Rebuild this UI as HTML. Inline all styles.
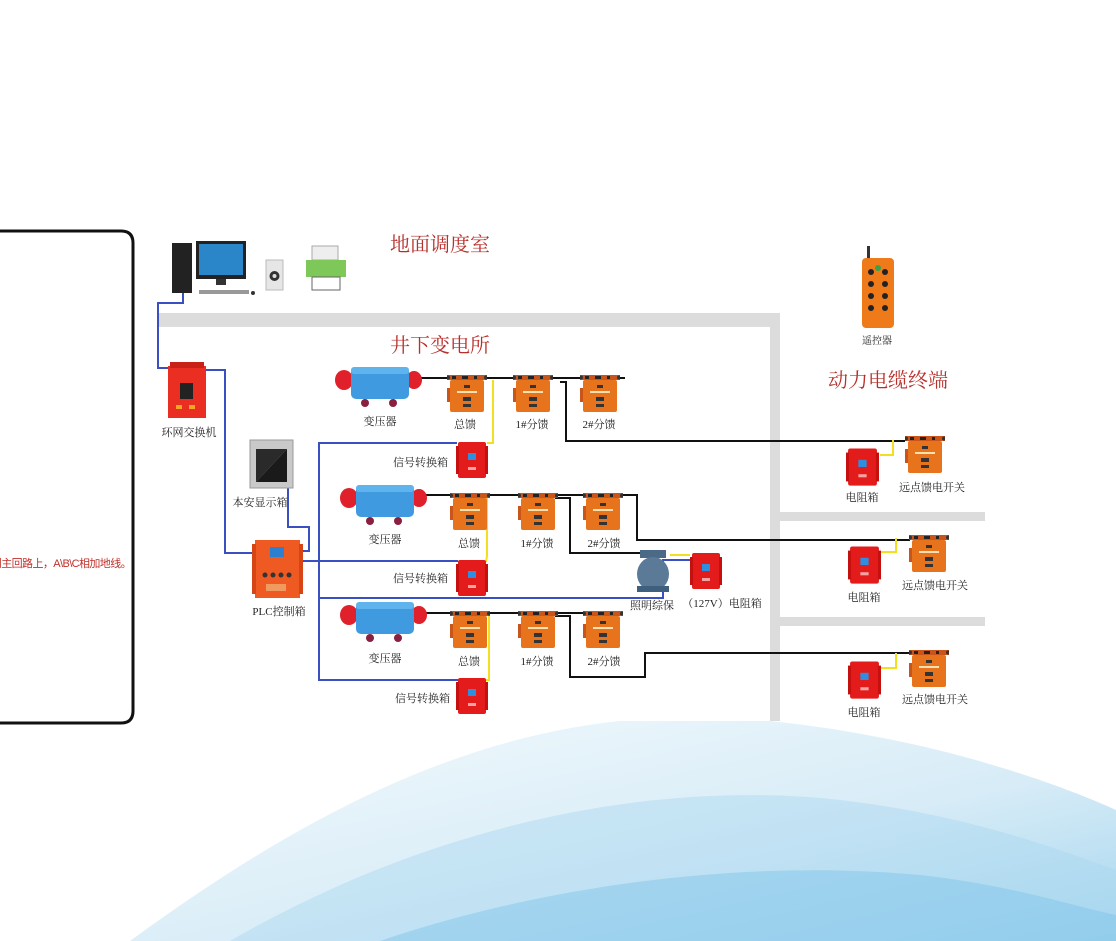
<!DOCTYPE html>
<html><head><meta charset="utf-8">
<style>
html,body{margin:0;padding:0;background:#fff;}
body{width:1116px;height:941px;overflow:hidden;position:relative;}
svg{position:absolute;left:0;top:0;}
text{font-family:"Liberation Serif","Noto Serif CJK SC",serif;}
.l{font-size:11px;fill:#222;}
.t{font-size:20px;fill:#b8302c;}
</style></head><body>
<svg width="1116" height="941" viewBox="0 0 1116 941" xmlns="http://www.w3.org/2000/svg">
<defs>
<linearGradient id="w1" x1="0" y1="0" x2="1" y2="1">
<stop offset="0" stop-color="#f2f9fd"/><stop offset="0.6" stop-color="#cde7f5"/><stop offset="1" stop-color="#8ecbea"/></linearGradient>
<symbol id="sw" viewBox="0 0 40 42">
<rect x="0" y="3" width="40" height="5" fill="#c9551a"/>
<circle cx="1" cy="5.5" r="2" fill="#333"/><circle cx="39" cy="5.5" r="2" fill="#333"/>
<rect x="5" y="4" width="4" height="3" fill="#222"/><rect x="15" y="4" width="6" height="3" fill="#222"/><rect x="27" y="4" width="3" height="3" fill="#222"/>
<rect x="3" y="8" width="34" height="32" rx="2" fill="#e8731d"/>
<rect x="17" y="13" width="6" height="3" fill="#333"/>
<rect x="10" y="19" width="20" height="2" fill="#fbe0b0"/>
<rect x="16" y="25" width="8" height="4" fill="#333"/>
<rect x="16" y="32" width="8" height="3" fill="#333"/>
<rect x="0" y="16" width="3" height="14" fill="#c9551a"/>
</symbol>
<symbol id="rb" viewBox="0 0 32 40">
<rect x="2" y="2" width="28" height="36" rx="2" fill="#e41b1b"/>
<rect x="0" y="6" width="3" height="28" fill="#c51010"/>
<rect x="29" y="6" width="3" height="28" fill="#c51010"/>
<rect x="12" y="13" width="8" height="7" fill="#2e8fe0"/>
<rect x="12" y="27" width="8" height="3" fill="#fff" opacity=".6"/>
</symbol>
<symbol id="tr" viewBox="0 0 88 42">
<ellipse cx="9" cy="15" rx="9" ry="10" fill="#e0202a"/>
<ellipse cx="79" cy="15" rx="8" ry="9" fill="#e0202a"/>
<rect x="16" y="2" width="58" height="32" rx="5" fill="#3f9ae0"/>
<rect x="16" y="2" width="58" height="7" rx="3" fill="#5fb4ee"/>
<circle cx="30" cy="38" r="4" fill="#8a2040"/><circle cx="58" cy="38" r="4" fill="#8a2040"/>
</symbol>
</defs>

<!-- background wave -->
<path d="M130 941 C 350 780 540 700 760 720 C 920 735 1050 780 1116 810 L1116 941 Z" fill="url(#w1)" opacity=".8"/>
<path d="M230 941 C 440 820 660 780 840 800 C 970 815 1060 850 1116 870 L1116 941 Z" fill="#a8d6ef" opacity=".45"/>
<path d="M380 941 C 560 880 760 860 920 875 C 1010 885 1070 905 1116 915 L1116 941 Z" fill="#7cc3e8" opacity=".45"/>

<!-- diagram white area -->
<rect x="150" y="228" width="835" height="493" fill="#fff"/>

<!-- left panel -->
<path d="M-5 231 H121 Q133 231 133 243 V711 Q133 723 121 723 H-5" fill="#fff" stroke="#111" stroke-width="3"/>
<text x="131" y="567" text-anchor="end" style="font-family:'Liberation Sans','Noto Sans CJK SC',sans-serif;font-size:11px;fill:#c0302a;letter-spacing:-0.6px">到主回路上，A\B\C相加地线。</text>

<!-- gray bands -->
<rect x="158" y="313" width="622" height="12" fill="#dcdcdc"/>
<line x1="158" y1="326" x2="780" y2="326" stroke="#bbb"/>
<rect x="770" y="320" width="10" height="401" fill="#dcdcdc"/>
<rect x="780" y="512" width="205" height="9" fill="#dcdcdc"/>
<rect x="780" y="617" width="205" height="9" fill="#dcdcdc"/>

<!-- titles -->
<text class="t" x="390" y="251">地面调度室</text>
<text class="t" x="390" y="352">井下变电所</text>
<text class="t" x="828" y="387">动力电缆终端</text>

<!-- computer -->
<rect x="172" y="243" width="20" height="50" fill="#222"/>
<rect x="196" y="241" width="50" height="38" fill="#222"/>
<rect x="199" y="244" width="44" height="31" fill="#2b86c9"/>
<rect x="216" y="279" width="10" height="6" fill="#333"/>
<rect x="199" y="290" width="50" height="4" fill="#999"/>
<circle cx="253" cy="293" r="2" fill="#333"/>
<rect x="266" y="260" width="17" height="30" fill="#e6e6e6" stroke="#bbb"/>
<circle cx="274.5" cy="276" r="5" fill="#333"/><circle cx="274.5" cy="276" r="2" fill="#ddd"/>
<rect x="312" y="246" width="26" height="14" fill="#eee" stroke="#aaa"/>
<rect x="306" y="260" width="40" height="17" fill="#7dc858"/>
<rect x="312" y="277" width="28" height="13" fill="#fff" stroke="#666"/>

<!-- remote -->
<rect x="867" y="246" width="3" height="12" fill="#333"/>
<rect x="862" y="258" width="32" height="70" rx="4" fill="#ef7a1a"/>
<g fill="#222"><circle cx="871" cy="272" r="3"/><circle cx="885" cy="272" r="3"/><circle cx="871" cy="284" r="3"/><circle cx="885" cy="284" r="3"/><circle cx="871" cy="296" r="3"/><circle cx="885" cy="296" r="3"/><circle cx="871" cy="308" r="3"/><circle cx="885" cy="308" r="3"/></g>
<circle cx="878" cy="268" r="3" fill="#3aa04a"/>
<text class="l" x="877" y="344" text-anchor="middle" style="font-size:10px">遥控器</text>

<!-- blue lines -->
<g stroke="#3a4fc0" stroke-width="2" fill="none">
<polyline points="183,293 183,303 158,303 158,368 172,368"/>
<polyline points="205,370 225,370 225,553 252,553"/>
<polyline points="288,488 288,527 309,527 309,551 298,551"/>
<polyline points="457,443 319,443 319,680 458,680"/>
<polyline points="300,561 458,561"/>
<polyline points="319,598 663,598 663,560 690,560"/>
</g>

<!-- switch & display & PLC -->
<rect x="168" y="366" width="38" height="52" fill="#ea2f22"/>
<rect x="170" y="362" width="34" height="6" fill="#c82216"/>
<rect x="180" y="383" width="13" height="16" fill="#222"/>
<rect x="176" y="405" width="6" height="4" fill="#f5a623"/><rect x="189" y="405" width="6" height="4" fill="#f5a623"/>
<text class="l" x="189" y="436" text-anchor="middle">环网交换机</text>

<rect x="250" y="440" width="43" height="48" fill="#c9c9c9" stroke="#999"/>
<polygon points="256,482 287,449 287,482" fill="#1a1a1a"/>
<polygon points="256,449 287,449 256,482" fill="#2a2a2a"/>
<text class="l" x="260" y="506" text-anchor="middle">本安显示箱</text>

<rect x="255" y="540" width="45" height="58" fill="#ee5a22"/>
<rect x="252" y="544" width="4" height="50" fill="#d84515"/><rect x="299" y="544" width="4" height="50" fill="#d84515"/>
<rect x="270" y="547" width="14" height="10" fill="#2d7fd0"/>
<g fill="#333"><circle cx="265" cy="575" r="2.5"/><circle cx="273" cy="575" r="2.5"/><circle cx="281" cy="575" r="2.5"/><circle cx="289" cy="575" r="2.5"/></g>
<rect x="266" y="584" width="20" height="7" fill="#f09a60"/>
<text class="l" x="279" y="615" text-anchor="middle">PLC控制箱</text>

<!-- black lines -->
<g stroke="#111" stroke-width="2" fill="none">
<line x1="420" y1="378" x2="625" y2="378"/>
<polyline points="560,382 566,382 566,441 905,441"/>
<line x1="425" y1="495" x2="622" y2="495"/>
<polyline points="620,495 637,495 637,540 910,540"/>
<polyline points="555,498 570,498 570,553 640,553"/>
<line x1="425" y1="613" x2="622" y2="613"/>
<polyline points="555,616 570,616 570,677 645,677 645,653 910,653"/>
</g>
<!-- yellow lines -->
<g stroke="#f2e020" stroke-width="2" fill="none">
<polyline points="493,380 493,443 487,443"/>
<polyline points="487,496 487,556 486,562"/>
<polyline points="489,613 489,680 486,680"/>
<polyline points="670,555 690,555"/>
<polyline points="880,455 893,455 893,440"/>
<polyline points="880,552 896,552 896,538"/>
<polyline points="880,668 896,668 896,653"/>
</g>

<!-- row 1 -->
<use href="#tr" x="335" y="365" width="88" height="42"/>
<text class="l" x="380" y="425" text-anchor="middle">变压器</text>
<use href="#sw" x="447" y="372" width="40" height="42"/>
<use href="#sw" x="513" y="372" width="40" height="42"/>
<use href="#sw" x="580" y="372" width="40" height="42"/>
<text class="l" x="465" y="428" text-anchor="middle">总馈</text>
<text class="l" x="532" y="428" text-anchor="middle">1#分馈</text>
<text class="l" x="599" y="428" text-anchor="middle">2#分馈</text>
<use href="#rb" x="456" y="440" width="32" height="40"/>
<text class="l" x="448" y="466" text-anchor="end">信号转换箱</text>

<!-- row 2 -->
<use href="#tr" x="340" y="483" width="88" height="42"/>
<text class="l" x="385" y="543" text-anchor="middle">变压器</text>
<use href="#sw" x="450" y="490" width="40" height="42"/>
<use href="#sw" x="518" y="490" width="40" height="42"/>
<use href="#sw" x="583" y="490" width="40" height="42"/>
<text class="l" x="469" y="547" text-anchor="middle">总馈</text>
<text class="l" x="537" y="547" text-anchor="middle">1#分馈</text>
<text class="l" x="604" y="547" text-anchor="middle">2#分馈</text>
<use href="#rb" x="456" y="558" width="32" height="40"/>
<text class="l" x="448" y="582" text-anchor="end">信号转换箱</text>
<!-- lamp -->
<rect x="640" y="550" width="26" height="8" fill="#4a6a88"/>
<ellipse cx="653" cy="574" rx="16" ry="17" fill="#5a7a98"/>
<rect x="637" y="586" width="32" height="6" fill="#3f5f7e"/>
<text class="l" x="652" y="609" text-anchor="middle">照明综保</text>
<use href="#rb" x="690" y="550" width="32" height="42"/>
<text class="l" x="722" y="607" text-anchor="middle">（127V）电阻箱</text>

<!-- row 3 -->
<use href="#tr" x="340" y="600" width="88" height="42"/>
<text class="l" x="385" y="662" text-anchor="middle">变压器</text>
<use href="#sw" x="450" y="608" width="40" height="42"/>
<use href="#sw" x="518" y="608" width="40" height="42"/>
<use href="#sw" x="583" y="608" width="40" height="42"/>
<text class="l" x="469" y="665" text-anchor="middle">总馈</text>
<text class="l" x="537" y="665" text-anchor="middle">1#分馈</text>
<text class="l" x="604" y="665" text-anchor="middle">2#分馈</text>
<use href="#rb" x="456" y="676" width="32" height="40"/>
<text class="l" x="450" y="702" text-anchor="end">信号转换箱</text>

<!-- right terminals -->
<use href="#sw" x="905" y="433" width="40" height="42"/>
<use href="#rb" x="846" y="446" width="33" height="42"/>
<text class="l" x="932" y="491" text-anchor="middle">远点馈电开关</text>
<text class="l" x="862" y="501" text-anchor="middle">电阻箱</text>

<use href="#sw" x="909" y="532" width="40" height="42"/>
<use href="#rb" x="848" y="544" width="33" height="42"/>
<text class="l" x="935" y="589" text-anchor="middle">远点馈电开关</text>
<text class="l" x="864" y="601" text-anchor="middle">电阻箱</text>

<use href="#sw" x="909" y="647" width="40" height="42"/>
<use href="#rb" x="848" y="659" width="33" height="42"/>
<text class="l" x="935" y="703" text-anchor="middle">远点馈电开关</text>
<text class="l" x="864" y="716" text-anchor="middle">电阻箱</text>
</svg>
</body></html>
